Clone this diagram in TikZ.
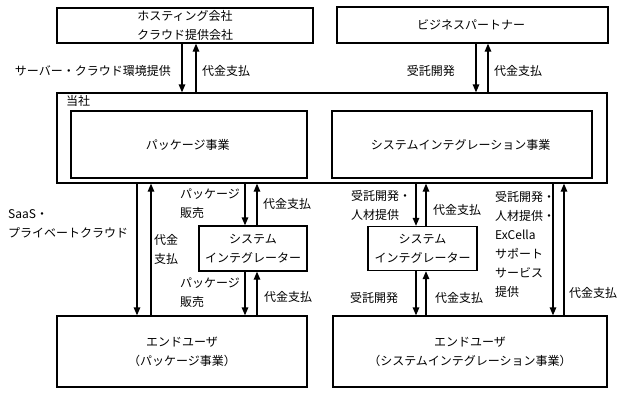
\documentclass[tikz,border=0pt]{standalone}
\usepackage{fontspec}
\setmainfont{Noto Sans CJK JP}
\usetikzlibrary{
    arrows.meta,
    positioning
}

\begin{document}
\begin{tikzpicture}[
    x=1pt, y=-1pt,
    font=\fontsize{12}{19}\selectfont,
    party/.style={
        rectangle,
        draw=black,
        line width=1.3pt,
        align=center,
        inner sep=0pt,
        fill=white
    },
    flow/.style={
        -{Triangle[length=8pt,width=6.5pt]},
        line width=1.3pt,
        draw=black
    },
    note/.style={
        align=left,
        inner sep=0pt
    }
]
\useasboundingbox (0,0) rectangle (623,394);

% =========================================================
% Parties
% =========================================================
\node[party, minimum width=256pt, minimum height=35pt] (hosting) at (185,25.5) {
ホスティング会社\\クラウド提供会社
};
\node[party, minimum width=271pt, minimum height=36pt] (partner) at (472.5,25) {
ビジネスパートナー
};

\node[party, minimum width=550pt, minimum height=90pt] (company) at (332,138) {};
\node[note, anchor=west] (companylabel) at (66,101) {当社};
\node[party, minimum width=236pt, minimum height=67pt] (pkgbiz) at (189,144.5) {
パッケージ事業
};
\node[party, minimum width=260pt, minimum height=67pt] (sibiz) at (462,144.5) {
システムインテグレーション事業
};

\node[party, minimum width=108pt, minimum height=45pt] (sierpkg) at (253,248.5) {
システム\\インテグレーター
};
\node[party, minimum width=109pt, minimum height=44pt] (siersi) at (422.5,248.5) {
システム\\インテグレーター
};

\node[party, minimum width=250pt, minimum height=71pt] (userpkg) at (182,351.5) {
エンドユーザ\\（パッケージ事業）
};
\node[party, minimum width=274pt, minimum height=71pt] (usersi) at (470,351.5) {
エンドユーザ\\（システムインテグレーション事業）
};

% =========================================================
% Suppliers -> company
% =========================================================
\draw[flow] (hosting.south -| 182,0) -- (company.north -| 182,0);
\draw[flow] (company.north -| 196,0) -- (hosting.south -| 196,0);
\node[note, anchor=east] (srvlabel) at (171,71) {サーバー・クラウド環境提供};
\node[note, anchor=west] (paylabela) at (202,71) {代金支払};

\draw[flow] (partner.south -| 476,0) -- (company.north -| 476,0);
\draw[flow] (company.north -| 488,0) -- (partner.south -| 488,0);
\node[note, anchor=east] (devlabela) at (455,71) {受託開発};
\node[note, anchor=west] (paylabelb) at (494,71) {代金支払};

% =========================================================
% Package business -> end users
% =========================================================
\draw[flow] (company.south -| 137,0) -- (userpkg.north -| 137,0);
\draw[flow] (userpkg.north -| 151,0) -- (company.south -| 151,0);
\node[note, anchor=west] (saaslabel) at (8,224) {SaaS・\\プライベートクラウド};
\node[note, anchor=west] (paylabelc) at (154,249) {代金\\支払};

\draw[flow] (company.south -| 245,0) -- (sierpkg.north -| 245,0);
\draw[flow] (sierpkg.north -| 257,0) -- (company.south -| 257,0);
\node[note, anchor=west] (salelabela) at (180,204) {パッケージ\\販売};
\node[note, anchor=west] (paylabeld) at (263,204) {代金支払};

\draw[flow] (sierpkg.south -| 245,0) -- (userpkg.north -| 245,0);
\draw[flow] (userpkg.north -| 257,0) -- (sierpkg.south -| 257,0);
\node[note, anchor=west] (salelabelb) at (180,293) {パッケージ\\販売};
\node[note, anchor=west] (paylabele) at (264,297) {代金支払};

% =========================================================
% System integration business -> end users
% =========================================================
\draw[flow] (company.south -| 416,0) -- (siersi.north -| 416,0);
\draw[flow] (siersi.north -| 426,0) -- (company.south -| 426,0);
\node[note, anchor=west] (devlabelb) at (351,205) {受託開発・\\人材提供};
\node[note, anchor=west] (paylabelf) at (433,210) {代金支払};

\draw[flow] (siersi.south -| 416,0) -- (usersi.north -| 416,0);
\draw[flow] (usersi.north -| 426,0) -- (siersi.south -| 426,0);
\node[note, anchor=west] (devlabelc) at (350,298) {受託開発};
\node[note, anchor=west] (paylabelg) at (435,298) {代金支払};

\draw[flow] (company.south -| 553,0) -- (usersi.north -| 553,0);
\draw[flow] (usersi.north -| 564,0) -- (company.south -| 564,0);
\node[note, anchor=west] (devlabeld) at (495,244.5) {受託開発・\\人材提供・\\ExCella\\サポート\\サービス\\提供};
\node[note, anchor=west] (paylabelh) at (569,293) {代金支払};

\end{tikzpicture}
\end{document}
